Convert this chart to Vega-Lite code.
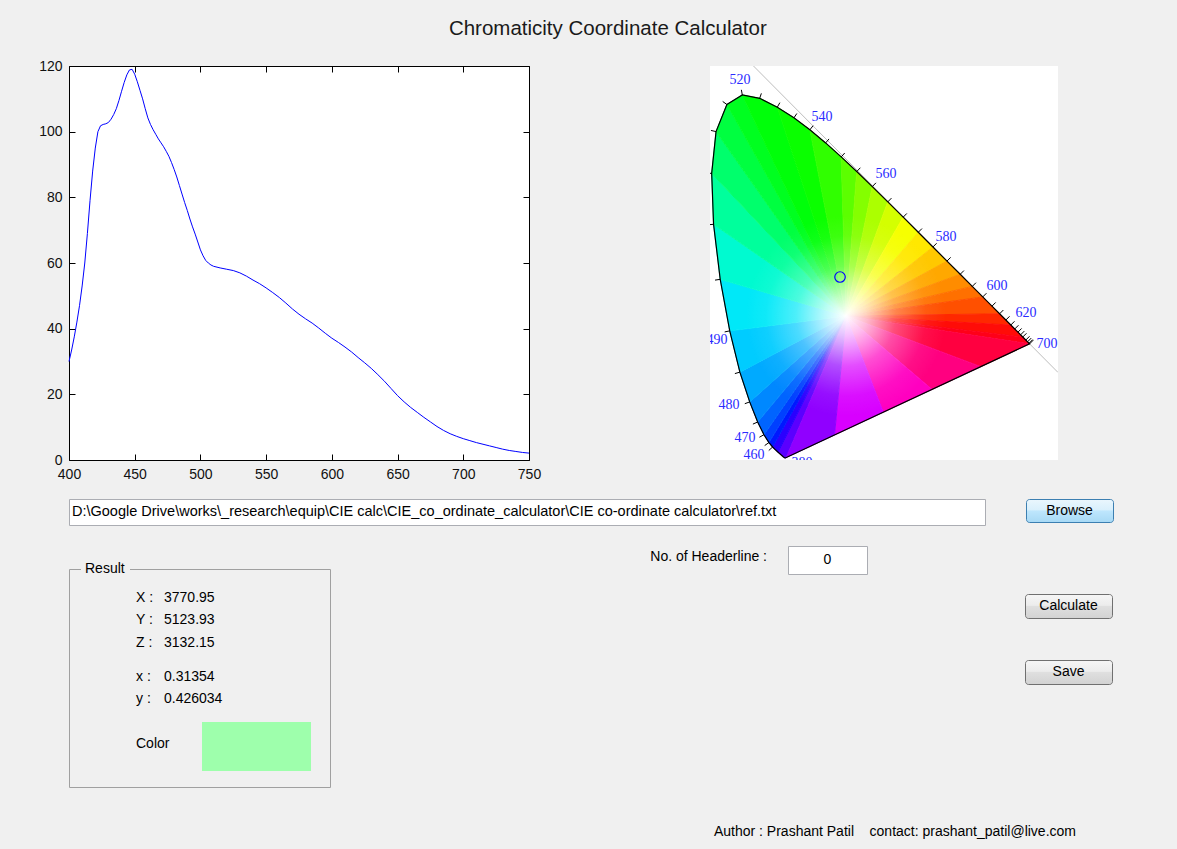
{
  "$schema": "https://vega.github.io/schema/vega-lite/v6.json",
  "background": "#f0f0f0",
  "padding": {"left": 38, "top": 19, "right": 65, "bottom": 12},
  "title": {"text": "Chromaticity Coordinate Calculator", "font": "Liberation Sans", "fontSize": 20.5, "fontWeight": "normal", "color": "#1a1a1a", "anchor": "middle", "offset": 19, "dx": 32},
  "config": {
    "view": {"stroke": null},
    "text": {"font": "Liberation Sans", "fontSize": 14, "color": "#000000"}
  },
  "datasets": {
    "spec": [
      {"wl":400,"v":30},{"wl":402,"v":33.5},{"wl":404,"v":37.5},{"wl":406,"v":42},{"wl":408,"v":47},{"wl":410,"v":53},{"wl":412,"v":60},{"wl":414,"v":69},{"wl":416,"v":79},{"wl":418,"v":88},{"wl":420,"v":95},{"wl":422,"v":100},{"wl":424,"v":101.8},{"wl":426,"v":102.2},{"wl":428,"v":102.4},{"wl":430,"v":102.8},{"wl":432,"v":103.8},{"wl":434,"v":105.2},{"wl":436,"v":107},{"wl":438,"v":109.5},{"wl":440,"v":112.3},{"wl":442,"v":115},{"wl":444,"v":117.3},{"wl":446,"v":118.8},{"wl":448,"v":119},{"wl":450,"v":117.5},{"wl":452,"v":115.2},{"wl":454,"v":112.6},{"wl":456,"v":110},{"wl":458,"v":107},{"wl":460,"v":104.2},{"wl":462,"v":102.2},{"wl":464,"v":100.6},{"wl":466,"v":99.2},{"wl":468,"v":97.8},{"wl":470,"v":96.6},{"wl":472,"v":95.4},{"wl":474,"v":94},{"wl":476,"v":92.5},{"wl":478,"v":90.6},{"wl":480,"v":88.5},{"wl":482,"v":86.2},{"wl":484,"v":83.6},{"wl":486,"v":81},{"wl":488,"v":78.4},{"wl":490,"v":76},{"wl":492,"v":73.4},{"wl":494,"v":71},{"wl":496,"v":68.8},{"wl":498,"v":66.4},{"wl":500,"v":64},{"wl":502,"v":62.2},{"wl":504,"v":60.8},{"wl":506,"v":60},{"wl":508,"v":59.4},{"wl":510,"v":59},{"wl":515,"v":58.5},{"wl":520,"v":58.1},{"wl":525,"v":57.7},{"wl":530,"v":57},{"wl":535,"v":56},{"wl":540,"v":54.8},{"wl":545,"v":53.7},{"wl":550,"v":52.4},{"wl":555,"v":51},{"wl":560,"v":49.5},{"wl":565,"v":47.8},{"wl":570,"v":46},{"wl":575,"v":44.4},{"wl":580,"v":43},{"wl":585,"v":41.7},{"wl":590,"v":40.2},{"wl":595,"v":38.6},{"wl":600,"v":37.1},{"wl":605,"v":35.8},{"wl":610,"v":34.4},{"wl":615,"v":32.9},{"wl":620,"v":31.2},{"wl":625,"v":29.6},{"wl":630,"v":27.9},{"wl":635,"v":26},{"wl":640,"v":24},{"wl":645,"v":21.8},{"wl":650,"v":19.6},{"wl":655,"v":17.7},{"wl":660,"v":16},{"wl":665,"v":14.5},{"wl":670,"v":13},{"wl":675,"v":11.6},{"wl":680,"v":10.2},{"wl":685,"v":9},{"wl":690,"v":8},{"wl":695,"v":7.2},{"wl":700,"v":6.5},{"wl":705,"v":5.9},{"wl":710,"v":5.3},{"wl":715,"v":4.8},{"wl":720,"v":4.3},{"wl":725,"v":3.8},{"wl":730,"v":3.3},{"wl":735,"v":2.9},{"wl":740,"v":2.6},{"wl":745,"v":2.3},{"wl":750,"v":2.1}
    ],
    "locus": [
      {"o":380,"x":0.1741,"y":0.0050},{"o":390,"x":0.1738,"y":0.0049},{"o":400,"x":0.1733,"y":0.0048},{"o":410,"x":0.1726,"y":0.0048},{"o":420,"x":0.1714,"y":0.0051},{"o":430,"x":0.1689,"y":0.0069},{"o":440,"x":0.1644,"y":0.0109},{"o":445,"x":0.1611,"y":0.0138},{"o":450,"x":0.1566,"y":0.0177},{"o":455,"x":0.1510,"y":0.0227},{"o":460,"x":0.1440,"y":0.0297},{"o":465,"x":0.1355,"y":0.0399},{"o":470,"x":0.1241,"y":0.0578},{"o":475,"x":0.1096,"y":0.0868},{"o":480,"x":0.0913,"y":0.1327},{"o":485,"x":0.0687,"y":0.2007},{"o":490,"x":0.0454,"y":0.2950},{"o":495,"x":0.0235,"y":0.4127},{"o":500,"x":0.0082,"y":0.5384},{"o":505,"x":0.0039,"y":0.6548},{"o":510,"x":0.0139,"y":0.7502},{"o":515,"x":0.0389,"y":0.8120},{"o":520,"x":0.0743,"y":0.8338},{"o":525,"x":0.1142,"y":0.8262},{"o":530,"x":0.1547,"y":0.8059},{"o":535,"x":0.1929,"y":0.7816},{"o":540,"x":0.2296,"y":0.7543},{"o":545,"x":0.2658,"y":0.7243},{"o":550,"x":0.3016,"y":0.6923},{"o":555,"x":0.3373,"y":0.6589},{"o":560,"x":0.3731,"y":0.6245},{"o":565,"x":0.4087,"y":0.5896},{"o":570,"x":0.4441,"y":0.5547},{"o":575,"x":0.4788,"y":0.5202},{"o":580,"x":0.5125,"y":0.4866},{"o":585,"x":0.5448,"y":0.4544},{"o":590,"x":0.5752,"y":0.4242},{"o":595,"x":0.6029,"y":0.3965},{"o":600,"x":0.6270,"y":0.3725},{"o":605,"x":0.6482,"y":0.3514},{"o":610,"x":0.6658,"y":0.3340},{"o":615,"x":0.6801,"y":0.3197},{"o":620,"x":0.6915,"y":0.3083},{"o":625,"x":0.7006,"y":0.2993},{"o":630,"x":0.7079,"y":0.2920},{"o":640,"x":0.7190,"y":0.2809},{"o":650,"x":0.7260,"y":0.2740},{"o":660,"x":0.7300,"y":0.2700},{"o":680,"x":0.7334,"y":0.2666},{"o":700,"x":0.7347,"y":0.2653},{"o":701,"x":0.1741,"y":0.0050}
    ],
    "wedges": [
      {"w":1,"o":0,"x":0.3127,"y":0.329},{"w":1,"o":1,"x":0.1741,"y":0.005},{"w":1,"o":2,"x":0.1714,"y":0.0051},{"w":1,"o":3,"x":0.1644,"y":0.0109},{"w":1,"o":4,"x":0.1566,"y":0.0177},
      {"w":2,"o":0,"x":0.3127,"y":0.329},{"w":2,"o":1,"x":0.1566,"y":0.0177},{"w":2,"o":2,"x":0.1510,"y":0.0227},{"w":2,"o":3,"x":0.1440,"y":0.0297},
      {"w":3,"o":0,"x":0.3127,"y":0.329},{"w":3,"o":1,"x":0.1440,"y":0.0297},{"w":3,"o":2,"x":0.1355,"y":0.0399},
      {"w":4,"o":0,"x":0.3127,"y":0.329},{"w":4,"o":1,"x":0.1355,"y":0.0399},{"w":4,"o":2,"x":0.1241,"y":0.0578},
      {"w":5,"o":0,"x":0.3127,"y":0.329},{"w":5,"o":1,"x":0.1241,"y":0.0578},{"w":5,"o":2,"x":0.1096,"y":0.0868},
      {"w":6,"o":0,"x":0.3127,"y":0.329},{"w":6,"o":1,"x":0.1096,"y":0.0868},{"w":6,"o":2,"x":0.0913,"y":0.1327},
      {"w":7,"o":0,"x":0.3127,"y":0.329},{"w":7,"o":1,"x":0.0913,"y":0.1327},{"w":7,"o":2,"x":0.0687,"y":0.2007},
      {"w":8,"o":0,"x":0.3127,"y":0.329},{"w":8,"o":1,"x":0.0687,"y":0.2007},{"w":8,"o":2,"x":0.0454,"y":0.2950},
      {"w":9,"o":0,"x":0.3127,"y":0.329},{"w":9,"o":1,"x":0.0454,"y":0.2950},{"w":9,"o":2,"x":0.0235,"y":0.4127},
      {"w":10,"o":0,"x":0.3127,"y":0.329},{"w":10,"o":1,"x":0.0235,"y":0.4127},{"w":10,"o":2,"x":0.0082,"y":0.5384},
      {"w":11,"o":0,"x":0.3127,"y":0.329},{"w":11,"o":1,"x":0.0082,"y":0.5384},{"w":11,"o":2,"x":0.0039,"y":0.6548},
      {"w":12,"o":0,"x":0.3127,"y":0.329},{"w":12,"o":1,"x":0.0039,"y":0.6548},{"w":12,"o":2,"x":0.0139,"y":0.7502},
      {"w":13,"o":0,"x":0.3127,"y":0.329},{"w":13,"o":1,"x":0.0139,"y":0.7502},{"w":13,"o":2,"x":0.0389,"y":0.8120},
      {"w":14,"o":0,"x":0.3127,"y":0.329},{"w":14,"o":1,"x":0.0389,"y":0.8120},{"w":14,"o":2,"x":0.0743,"y":0.8338},
      {"w":15,"o":0,"x":0.3127,"y":0.329},{"w":15,"o":1,"x":0.0743,"y":0.8338},{"w":15,"o":2,"x":0.1142,"y":0.8262},{"w":15,"o":3,"x":0.1547,"y":0.8059},
      {"w":16,"o":0,"x":0.3127,"y":0.329},{"w":16,"o":1,"x":0.1547,"y":0.8059},{"w":16,"o":2,"x":0.1929,"y":0.7816},{"w":16,"o":3,"x":0.2296,"y":0.7543},
      {"w":17,"o":0,"x":0.3127,"y":0.329},{"w":17,"o":1,"x":0.2296,"y":0.7543},{"w":17,"o":2,"x":0.2658,"y":0.7243},{"w":17,"o":3,"x":0.3016,"y":0.6923},
      {"w":18,"o":0,"x":0.3127,"y":0.329},{"w":18,"o":1,"x":0.3016,"y":0.6923},{"w":18,"o":2,"x":0.3373,"y":0.6589},
      {"w":19,"o":0,"x":0.3127,"y":0.329},{"w":19,"o":1,"x":0.3373,"y":0.6589},{"w":19,"o":2,"x":0.3731,"y":0.6245},
      {"w":20,"o":0,"x":0.3127,"y":0.329},{"w":20,"o":1,"x":0.3731,"y":0.6245},{"w":20,"o":2,"x":0.4087,"y":0.5896},
      {"w":21,"o":0,"x":0.3127,"y":0.329},{"w":21,"o":1,"x":0.4087,"y":0.5896},{"w":21,"o":2,"x":0.4441,"y":0.5547},
      {"w":22,"o":0,"x":0.3127,"y":0.329},{"w":22,"o":1,"x":0.4441,"y":0.5547},{"w":22,"o":2,"x":0.4788,"y":0.5202},
      {"w":23,"o":0,"x":0.3127,"y":0.329},{"w":23,"o":1,"x":0.4788,"y":0.5202},{"w":23,"o":2,"x":0.5125,"y":0.4866},
      {"w":24,"o":0,"x":0.3127,"y":0.329},{"w":24,"o":1,"x":0.5125,"y":0.4866},{"w":24,"o":2,"x":0.5448,"y":0.4544},
      {"w":25,"o":0,"x":0.3127,"y":0.329},{"w":25,"o":1,"x":0.5448,"y":0.4544},{"w":25,"o":2,"x":0.5752,"y":0.4242},
      {"w":26,"o":0,"x":0.3127,"y":0.329},{"w":26,"o":1,"x":0.5752,"y":0.4242},{"w":26,"o":2,"x":0.6029,"y":0.3965},
      {"w":27,"o":0,"x":0.3127,"y":0.329},{"w":27,"o":1,"x":0.6029,"y":0.3965},{"w":27,"o":2,"x":0.6270,"y":0.3725},
      {"w":28,"o":0,"x":0.3127,"y":0.329},{"w":28,"o":1,"x":0.6270,"y":0.3725},{"w":28,"o":2,"x":0.6482,"y":0.3514},{"w":28,"o":3,"x":0.6658,"y":0.3340},
      {"w":29,"o":0,"x":0.3127,"y":0.329},{"w":29,"o":1,"x":0.6658,"y":0.3340},{"w":29,"o":2,"x":0.6801,"y":0.3197},{"w":29,"o":3,"x":0.6915,"y":0.3083},
      {"w":30,"o":0,"x":0.3127,"y":0.329},{"w":30,"o":1,"x":0.6915,"y":0.3083},{"w":30,"o":2,"x":0.7079,"y":0.2920},{"w":30,"o":3,"x":0.7190,"y":0.2809},
      {"w":31,"o":0,"x":0.3127,"y":0.329},{"w":31,"o":1,"x":0.7190,"y":0.2809},{"w":31,"o":2,"x":0.7300,"y":0.2700},{"w":31,"o":3,"x":0.7347,"y":0.2653},
      {"w":32,"o":0,"x":0.3127,"y":0.329},{"w":32,"o":1,"x":0.7347,"y":0.2653},{"w":32,"o":2,"x":0.6226,"y":0.2132},
      {"w":33,"o":0,"x":0.3127,"y":0.329},{"w":33,"o":1,"x":0.6226,"y":0.2132},{"w":33,"o":2,"x":0.5104,"y":0.1612},
      {"w":34,"o":0,"x":0.3127,"y":0.329},{"w":34,"o":1,"x":0.5104,"y":0.1612},{"w":34,"o":2,"x":0.3983,"y":0.1091},
      {"w":35,"o":0,"x":0.3127,"y":0.329},{"w":35,"o":1,"x":0.3983,"y":0.1091},{"w":35,"o":2,"x":0.2862,"y":0.0571},
      {"w":36,"o":0,"x":0.3127,"y":0.329},{"w":36,"o":1,"x":0.2862,"y":0.0571},{"w":36,"o":2,"x":0.1741,"y":0.005}
    ],
    "ticks": [
      {"nm":460,"x":0.1440,"y":0.0297,"x2":0.1351,"y2":0.0217},{"nm":465,"x":0.1355,"y":0.0399,"x2":0.1257,"y2":0.0330},{"nm":470,"x":0.1241,"y":0.0578,"x2":0.1136,"y2":0.0520},{"nm":475,"x":0.1096,"y":0.0868,"x2":0.0986,"y2":0.0820},{"nm":480,"x":0.0913,"y":0.1327,"x2":0.0800,"y2":0.1286},{"nm":485,"x":0.0687,"y":0.2007,"x2":0.0572,"y2":0.1974},{"nm":490,"x":0.0454,"y":0.2950,"x2":0.0337,"y2":0.2925},{"nm":495,"x":0.0235,"y":0.4127,"x2":0.0116,"y2":0.4109},{"nm":500,"x":0.0082,"y":0.5384,"x2":-0.0038,"y2":0.5374},{"nm":505,"x":0.0039,"y":0.6548,"x2":-0.0081,"y2":0.6551},{"nm":510,"x":0.0139,"y":0.7502,"x2":0.0022,"y2":0.7528},{"nm":515,"x":0.0389,"y":0.8120,"x2":0.0292,"y2":0.8190},{"nm":520,"x":0.0743,"y":0.8338,"x2":0.0721,"y2":0.8456},{"nm":525,"x":0.1142,"y":0.8262,"x2":0.1181,"y2":0.8375},{"nm":530,"x":0.1547,"y":0.8059,"x2":0.1606,"y2":0.8163},{"nm":535,"x":0.1929,"y":0.7816,"x2":0.1997,"y2":0.7915},{"nm":540,"x":0.2296,"y":0.7543,"x2":0.2370,"y2":0.7637},{"nm":545,"x":0.2658,"y":0.7243,"x2":0.2736,"y2":0.7334},{"nm":550,"x":0.3016,"y":0.6923,"x2":0.3097,"y2":0.7012},{"nm":555,"x":0.3373,"y":0.6589,"x2":0.3456,"y2":0.6676},{"nm":560,"x":0.3731,"y":0.6245,"x2":0.3815,"y2":0.6331},{"nm":565,"x":0.4087,"y":0.5896,"x2":0.4171,"y2":0.5982},{"nm":570,"x":0.4441,"y":0.5547,"x2":0.4525,"y2":0.5632},{"nm":575,"x":0.4788,"y":0.5202,"x2":0.4873,"y2":0.5287},{"nm":580,"x":0.5125,"y":0.4866,"x2":0.5210,"y2":0.4951},{"nm":585,"x":0.5448,"y":0.4544,"x2":0.5533,"y2":0.4629},{"nm":590,"x":0.5752,"y":0.4242,"x2":0.5837,"y2":0.4327},{"nm":595,"x":0.6029,"y":0.3965,"x2":0.6114,"y2":0.4050},{"nm":600,"x":0.6270,"y":0.3725,"x2":0.6355,"y2":0.3810},{"nm":605,"x":0.6482,"y":0.3514,"x2":0.6567,"y2":0.3599},{"nm":610,"x":0.6658,"y":0.3340,"x2":0.6743,"y2":0.3425},{"nm":615,"x":0.6801,"y":0.3197,"x2":0.6886,"y2":0.3282},{"nm":620,"x":0.6915,"y":0.3083,"x2":0.7000,"y2":0.3168},{"nm":625,"x":0.7006,"y":0.2993,"x2":0.7091,"y2":0.3078},{"nm":630,"x":0.7079,"y":0.2920,"x2":0.7164,"y2":0.3005},{"nm":635,"x":0.7140,"y":0.2859,"x2":0.7225,"y2":0.2944},{"nm":640,"x":0.7190,"y":0.2809,"x2":0.7275,"y2":0.2894},{"nm":650,"x":0.7260,"y":0.2740,"x2":0.7345,"y2":0.2825},{"nm":660,"x":0.7300,"y":0.2700,"x2":0.7385,"y2":0.2785},{"nm":680,"x":0.7334,"y":0.2666,"x2":0.7419,"y2":0.2751},{"nm":700,"x":0.7347,"y":0.2653,"x2":0.7432,"y2":0.2738}
    ],
    "labels": [
      {"nm":"520","x":0.069,"y":0.868},{"nm":"540","x":0.2575,"y":0.7835},{"nm":"560","x":0.4046,"y":0.6533},{"nm":"580","x":0.5425,"y":0.5094},{"nm":"600","x":0.6598,"y":0.3974},{"nm":"620","x":0.7264,"y":0.3358},{"nm":"700","x":0.7747,"y":0.265},{"nm":"490","x":0.0161,"y":0.2741},{"nm":"480","x":0.0437,"y":0.1256},{"nm":"470","x":0.0805,"y":0.0503},{"nm":"460","x":0.1011,"y":0.0114},{"nm":"380","x":0.2115,"y":-0.0069}
    ]
  },
  "vconcat": [
    {
      "hconcat": [
        {
          "width": 460,
          "height": 394,
          "view": {"fill": "white", "stroke": "black", "strokeWidth": 1},
          "data": {"name": "spec"},
          "layer": [
            {
              "mark": {"type": "line", "color": "#0000ff", "strokeWidth": 1},
              "encoding": {
                "x": {"field": "wl", "type": "quantitative", "scale": {"domain": [400, 750], "nice": false, "zero": false},
                      "axis": {"orient": "bottom", "values": [400,450,500,550,600,650,700,750], "title": null, "grid": false, "domain": false, "tickSize": -6, "tickColor": "#000000", "labelPadding": 13, "labelFont": "Liberation Sans", "labelFontSize": 14, "labelColor": "#111111", "labelFlush": false, "labelOverlap": false}},
                "y": {"field": "v", "type": "quantitative", "scale": {"domain": [0, 120], "nice": false},
                      "axis": {"orient": "left", "values": [0,20,40,60,80,100,120], "title": null, "grid": false, "domain": false, "tickSize": -6, "tickColor": "#000000", "labelPadding": 13, "labelFont": "Liberation Sans", "labelFontSize": 14, "labelColor": "#111111", "labelFlush": false, "labelOverlap": false}}
              }
            },
            {
              "mark": {"type": "line", "opacity": 0},
              "encoding": {
                "x": {"field": "wl", "type": "quantitative", "axis": {"orient": "top", "values": [400,450,500,550,600,650,700,750], "labels": false, "title": null, "grid": false, "domain": false, "tickSize": -6, "tickColor": "#000000"}},
                "y": {"field": "v", "type": "quantitative", "axis": {"orient": "right", "values": [0,20,40,60,80,100,120], "labels": false, "title": null, "grid": false, "domain": false, "tickSize": -6, "tickColor": "#000000"}}
              }
            }
          ],
          "resolve": {"axis": {"x": "independent", "y": "independent"}}
        },
        {
          "width": 348,
          "height": 394,
          "view": {"fill": "white", "stroke": null},
          "layer": [
            {
              "data": {"values": [{"x": 0.1, "y": 0.9}, {"x": 0.8, "y": 0.2}]},
              "mark": {"type": "line", "color": "#bdbdbd", "strokeWidth": 1, "clip": true},
              "encoding": {
                "x": {"field": "x", "type": "quantitative", "scale": {"domain": [0, 0.8], "nice": false, "zero": false},
                      "axis": {"values": [0.05,0.1,0.15,0.2,0.25,0.3,0.35,0.4,0.45,0.5,0.55,0.6,0.65,0.7,0.75], "grid": true, "gridColor": "#c6c6c6", "gridOpacity": 1, "labels": false, "ticks": false, "domain": false, "title": null}},
                "y": {"field": "y", "type": "quantitative", "scale": {"domain": [0, 0.9], "nice": false, "zero": false},
                      "axis": {"values": [0.05,0.1,0.15,0.2,0.25,0.3,0.35,0.4,0.45,0.5,0.55,0.6,0.65,0.7,0.75,0.8,0.85], "grid": true, "gridColor": "#c6c6c6", "gridOpacity": 1, "labels": false, "ticks": false, "domain": false, "title": null}}
              }
            },
            {
              "data": {"name": "wedges"},
              "mark": {"type": "line", "strokeWidth": 1, "clip": true},
              "encoding": {
                "x": {"field": "x", "type": "quantitative", "axis": null},
                "y": {"field": "y", "type": "quantitative", "axis": null},
                "order": {"field": "o", "type": "quantitative"},
                "fill": {"field": "w", "type": "ordinal", "legend": null, "scale": {"domain": [1,2,3,4,5,6,7,8,9,10,11,12,13,14,15,16,17,18,19,20,21,22,23,24,25,26,27,28,29,30,31,32,33,34,35,36], "range": ["#5a00ff","#2a00ff","#0018ff","#0040ff","#0064ff","#0088ff","#00aaff","#00ccff","#00e8f8","#00fad0","#00ff9c","#00ff6c","#00ff40","#00ff20","#00ff0a","#0aff00","#30ff00","#5cff00","#84ff00","#acff00","#d4ff00","#f6ff00","#ffe800","#ffc800","#ffa800","#ff8c00","#ff7000","#ff5000","#ff2800","#ff0c08","#ff0018","#ff0040","#ff0080","#ff00c0","#d800ff","#9000ff"]}},
                "stroke": {"field": "w", "type": "ordinal", "legend": null, "scale": {"domain": [1,2,3,4,5,6,7,8,9,10,11,12,13,14,15,16,17,18,19,20,21,22,23,24,25,26,27,28,29,30,31,32,33,34,35,36], "range": ["#5a00ff","#2a00ff","#0018ff","#0040ff","#0064ff","#0088ff","#00aaff","#00ccff","#00e8f8","#00fad0","#00ff9c","#00ff6c","#00ff40","#00ff20","#00ff0a","#0aff00","#30ff00","#5cff00","#84ff00","#acff00","#d4ff00","#f6ff00","#ffe800","#ffc800","#ffa800","#ff8c00","#ff7000","#ff5000","#ff2800","#ff0c08","#ff0018","#ff0040","#ff0080","#ff00c0","#d800ff","#9000ff"]}}
              }
            },
            {
              "data": {"values": [{"x": 0.3127, "y": 0.329}]},
              "mark": {"type": "point", "shape": "circle", "filled": true, "size": 40000, "opacity": 1, "strokeWidth": 0,
                       "fill": {"gradient": "radial", "x1": 0.5, "y1": 0.5, "r1": 0, "x2": 0.5, "y2": 0.5, "r2": 0.5,
                                "stops": [{"offset": 0, "color": "rgba(255,255,255,1)"}, {"offset": 0.2, "color": "rgba(255,255,255,0.75)"}, {"offset": 0.5, "color": "rgba(255,255,255,0.3)"}, {"offset": 0.8, "color": "rgba(255,255,255,0.06)"}, {"offset": 1, "color": "rgba(255,255,255,0)"}]}},
              "encoding": {
                "x": {"field": "x", "type": "quantitative", "axis": null},
                "y": {"field": "y", "type": "quantitative", "axis": null}
              }
            },
            {
              "data": {"name": "locus"},
              "mark": {"type": "line", "color": "#000000", "strokeWidth": 1.2, "clip": true},
              "encoding": {
                "x": {"field": "x", "type": "quantitative", "axis": null},
                "y": {"field": "y", "type": "quantitative", "axis": null},
                "order": {"field": "o", "type": "quantitative"}
              }
            },
            {
              "data": {"name": "ticks"},
              "mark": {"type": "rule", "color": "#000000", "strokeWidth": 1, "clip": true},
              "encoding": {
                "x": {"field": "x", "type": "quantitative", "axis": null},
                "y": {"field": "y", "type": "quantitative", "axis": null},
                "x2": {"field": "x2"},
                "y2": {"field": "y2"}
              }
            },
            {
              "data": {"name": "labels"},
              "mark": {"type": "text", "font": "Liberation Serif", "fontSize": 14, "color": "#2b2bff", "clip": true},
              "encoding": {
                "x": {"field": "x", "type": "quantitative", "axis": null},
                "y": {"field": "y", "type": "quantitative", "axis": null},
                "text": {"field": "nm"}
              }
            },
            {
              "data": {"values": [{"x": 0.2989, "y": 0.418}]},
              "mark": {"type": "point", "shape": "circle", "filled": false, "size": 110, "stroke": "#0000ff", "strokeWidth": 1.2, "opacity": 1},
              "encoding": {
                "x": {"field": "x", "type": "quantitative", "axis": null},
                "y": {"field": "y", "type": "quantitative", "axis": null}
              }
            }
          ]
        }
      ],
      "spacing": 181,
      "bounds": "flush"
    },
    {
      "vconcat": [
        {
          "hconcat": [
            {
              "width": 916,
              "height": 26,
              "view": {"fill": "white", "stroke": "#abadb3"},
              "data": {"values": [{"path": "D:\\Google Drive\\works\\_research\\equip\\CIE calc\\CIE_co_ordinate_calculator\\CIE co-ordinate calculator\\ref.txt"}]},
              "mark": {"type": "text", "align": "left", "x": 3, "fontSize": 14.5},
              "encoding": {"text": {"field": "path"}}
            },
            {
              "width": 87,
              "height": 23,
              "view": {"stroke": "#3c7fb1", "cornerRadius": 3,
                       "fill": {"gradient": "linear", "x1": 0, "y1": 0, "x2": 0, "y2": 1, "stops": [{"offset": 0, "color": "#eaf6fd"}, {"offset": 0.45, "color": "#d9f0fc"}, {"offset": 0.5, "color": "#bee6fd"}, {"offset": 1, "color": "#a7d9f5"}]}},
              "data": {"values": [{"t": "Browse"}]},
              "mark": {"type": "text", "fontSize": 14},
              "encoding": {"text": {"field": "t"}}
            }
          ],
          "spacing": 41,
          "bounds": "flush"
        },
        {
          "vconcat": [
            {
              "hconcat": [
                {
                  "vconcat": [
                    {"width": 261, "height": 1, "data": {"values": []}, "mark": "point"},
                    {
                      "width": 261,
                      "height": 218,
                      "view": {"stroke": "#a0a0a0", "strokeWidth": 1},
                      "layer": [
                        {
                          "data": {"values": [{"t": "Result"}]},
                          "mark": {"type": "rect", "x": 12, "x2": 61, "y": -3, "y2": 3, "color": "#f0f0f0"},
                          "encoding": {}
                        },
                        {
                          "data": {"values": [{"t": "Result"}]},
                          "mark": {"type": "text", "align": "left", "baseline": "middle", "x": 16, "y": 0, "fontSize": 14},
                          "encoding": {"text": {"field": "t"}}
                        },
                        {
                          "data": {"values": [
                            {"row": "X", "part": "label", "text": "X :"}, {"row": "X", "part": "value", "text": "3770.95"},
                            {"row": "Y", "part": "label", "text": "Y :"}, {"row": "Y", "part": "value", "text": "5123.93"},
                            {"row": "Z", "part": "label", "text": "Z :"}, {"row": "Z", "part": "value", "text": "3132.15"},
                            {"row": "x", "part": "label", "text": "x :"}, {"row": "x", "part": "value", "text": "0.31354"},
                            {"row": "y", "part": "label", "text": "y :"}, {"row": "y", "part": "value", "text": "0.426034"},
                            {"row": "Color", "part": "label", "text": "Color"}
                          ]},
                          "mark": {"type": "text", "align": "left", "baseline": "middle", "fontSize": 14},
                          "encoding": {
                            "x": {"field": "part", "type": "nominal", "axis": null, "scale": {"type": "point", "domain": ["label", "value"], "range": [67, 95], "padding": 0}},
                            "y": {"field": "row", "type": "nominal", "axis": null, "scale": {"type": "point", "domain": ["X", "s1", "Y", "s2", "Z", "s3", "s4", "x", "s5", "y", "s6", "s7", "s8", "Color"], "range": [28.5, 175.4], "padding": 0}},
                            "text": {"field": "text"}
                          }
                        },
                        {
                          "data": {"values": [{"name": "Color", "rgb": "#9effac"}]},
                          "mark": {"type": "rect", "x": 133, "x2": 242, "y": 153, "y2": 202},
                          "encoding": {"fill": {"field": "rgb", "type": "nominal", "scale": null}}
                        }
                      ]
                    }
                  ],
                  "spacing": 22,
                  "bounds": "flush"
                },
                {
                  "hconcat": [
                    {
                      "width": 280,
                      "height": 28,
                      "data": {"values": [{"t": "No. of Headerline :"}]},
                      "mark": {"type": "text", "align": "right", "x": "width", "dy": -3, "fontSize": 14},
                      "encoding": {"text": {"field": "t"}}
                    },
                    {
                      "width": 79,
                      "height": 28,
                      "view": {"fill": "white", "stroke": "#abadb3"},
                      "data": {"values": [{"n": 0}]},
                      "mark": {"type": "text", "fontSize": 14},
                      "encoding": {"text": {"field": "n", "type": "quantitative"}}
                    }
                  ],
                  "spacing": 21,
                  "bounds": "flush"
                },
                {
                  "vconcat": [
                    {"width": 87, "height": 6, "data": {"values": []}, "mark": "point"},
                    {
                      "width": 87,
                      "height": 24,
                      "view": {"stroke": "#707070", "cornerRadius": 3,
                               "fill": {"gradient": "linear", "x1": 0, "y1": 0, "x2": 0, "y2": 1, "stops": [{"offset": 0, "color": "#f6f6f6"}, {"offset": 0.45, "color": "#ececec"}, {"offset": 0.5, "color": "#dfdfdf"}, {"offset": 1, "color": "#d2d2d2"}]}},
                      "data": {"values": [{"t": "Calculate"}]},
                      "mark": {"type": "text", "fontSize": 14},
                      "encoding": {"text": {"field": "t"}}
                    },
                    {
                      "width": 87,
                      "height": 24,
                      "view": {"stroke": "#707070", "cornerRadius": 3,
                               "fill": {"gradient": "linear", "x1": 0, "y1": 0, "x2": 0, "y2": 1, "stops": [{"offset": 0, "color": "#f6f6f6"}, {"offset": 0.45, "color": "#ececec"}, {"offset": 0.5, "color": "#dfdfdf"}, {"offset": 1, "color": "#d2d2d2"}]}},
                      "data": {"values": [{"t": "Save"}]},
                      "mark": {"type": "text", "fontSize": 14},
                      "encoding": {"text": {"field": "t"}}
                    }
                  ],
                  "spacing": 42,
                  "bounds": "flush"
                }
              ],
              "spacing": 156
            },
            {
              "width": 1007,
              "height": 16,
              "data": {"values": [{"t": "Author : Prashant Patil\u00a0\u00a0\u00a0\u00a0contact: prashant_patil@live.com"}]},
              "mark": {"type": "text", "align": "right", "x": "width", "fontSize": 14},
              "encoding": {"text": {"field": "t"}}
            }
          ],
          "spacing": 36
        }
      ],
      "spacing": 19
    }
  ],
  "spacing": 16
}
